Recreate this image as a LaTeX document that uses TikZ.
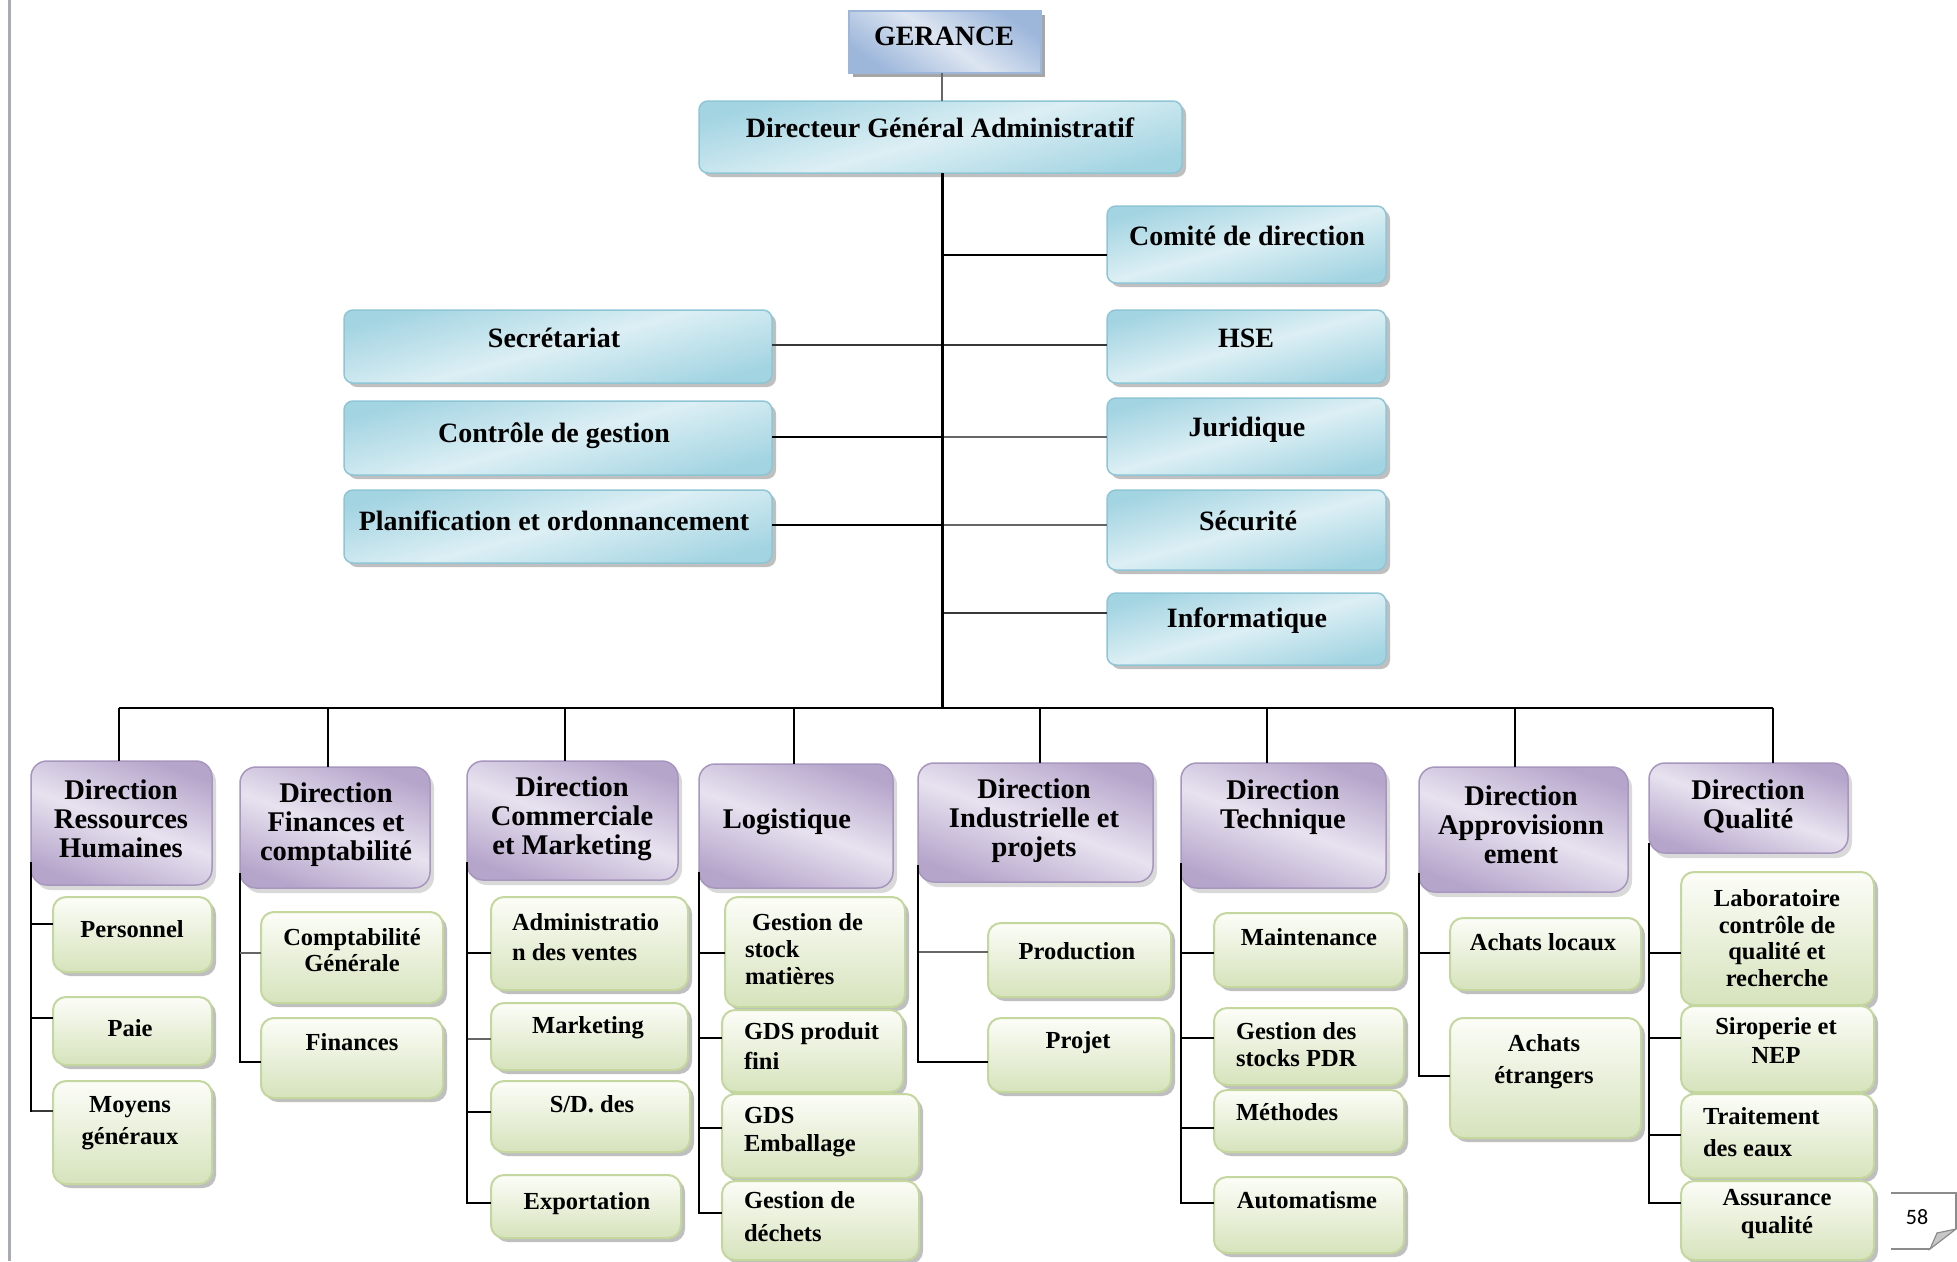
\documentclass[tikz,border=0pt]{standalone}
\usepackage{fontspec}
\setmainfont{Liberation Serif}
\newfontfamily\calibfont{Carlito}
\usetikzlibrary{shadows}
\definecolor{cyE}{HTML}{A3D4E2}
\definecolor{cyC}{HTML}{DCEFF4}
\definecolor{cyD}{HTML}{8FC6D6}
\definecolor{puE}{HTML}{B6A5CB}
\definecolor{puC}{HTML}{E7E2EF}
\definecolor{puD}{HTML}{A796BE}
\definecolor{grT}{HTML}{FCFDF8}
\definecolor{grB}{HTML}{D6E3BC}
\definecolor{grD}{HTML}{C4D79E}
\definecolor{blE}{HTML}{9DB7DB}
\definecolor{blC}{HTML}{DDE5F1}
\definecolor{marg}{HTML}{A6ABB4}
\newcommand\gf[1]{\fontsize{24.5}{#1}\selectfont\bfseries}
\newcommand\bx[6]{\node[#1, minimum width={#5-#3}, minimum height={#6-#4}] (#2) at ({(#3+#5)/2},{(#4+#6)/2}) {};}
\tikzset{
  base/.style={inner sep=0pt, outer sep=0pt},
  gerbox/.style={base, rectangle, draw=blE, line width=2pt, top color=blE, bottom color=blE, middle color=blC, shading angle=-35,
    drop shadow={shadow xshift=4pt, shadow yshift=-4pt, fill=black!35, opacity=1}},
  cybox/.style={base, rounded corners=9pt, draw=cyD, line width=1.5pt, top color=cyE, bottom color=cyE, middle color=cyC, shading angle=15,
    drop shadow={shadow xshift=4pt, shadow yshift=-4pt, fill=black!25, opacity=1}},
  pubox/.style={base, rounded corners=16pt, draw=puD, line width=1.5pt, top color=puE, bottom color=puE, middle color=puC, shading angle=-20,
    drop shadow={shadow xshift=4pt, shadow yshift=-5pt, fill=black!15, opacity=1}},
  grbox/.style={base, rounded corners=13pt, draw=grD, line width=2pt, top color=grT, bottom color=grB,
    drop shadow={shadow xshift=4pt, shadow yshift=-4pt, fill=black!25, opacity=1}},
  ttxt/.style={base, font=\fontsize{28}{30}\selectfont\bfseries, text height=1.75em, text depth=0.14em},
  ptxt/.style={base, font=\fontsize{28.5}{29}\selectfont\bfseries, align=center},
  gtxt/.style={base, font=\gf{27}, align=center},
  gltxt/.style={base, font=\gf{27}, align=left, anchor=west},
  conn/.style={line width=2.6pt, draw=black},
  conng/.style={line width=2.6pt, draw=black!60},
  conngd/.style={line width=2.6pt, draw=black!78},
  trunk/.style={line width=3pt, draw=black},
}
\begin{document}
\begin{tikzpicture}[x=1pt, y=-1pt]
\useasboundingbox[fill=white] (0,0) rectangle (1957,1261);
\draw[marg, line width=3pt] (9.5,0) -- (9.5,1261);

\coordinate (busL) at (119,708);
\coordinate (busR) at (1773,708);

\bx{cybox}{dga}{699}{101}{1182}{173}
\bx{gerbox}{ger}{849}{11}{1041}{73}
\draw[conng] (ger.south -| 942,0) -- (dga.north -| 942,0);
\draw[conn] (busL) -- (busR);

% top side boxes
\bx{cybox}{com}{1107}{206}{1386}{283}
\bx{cybox}{hse}{1107}{310}{1386}{383}
\bx{cybox}{jur}{1107}{398}{1386}{475}
\bx{cybox}{sec2}{1107}{490}{1386}{570}
\bx{cybox}{inf}{1107}{593}{1386}{665}
\bx{cybox}{secr}{344}{310}{772}{383}
\bx{cybox}{ctl}{344}{401}{772}{475}
\bx{cybox}{pla}{344}{490}{772}{563}

\draw[conn] (dga.south |- 0,255) -- (com.west |- 0,255);
\draw[conngd] (secr.east |- 0,345) -- (hse.west |- 0,345);
\draw[conn] (ctl.east |- 0,437) -- (dga.south |- 0,437);
\draw[conng] (dga.south |- 0,437) -- (jur.west |- 0,437);
\draw[conn] (pla.east |- 0,525) -- (dga.south |- 0,525);
\draw[conng] (dga.south |- 0,525) -- (sec2.west |- 0,525);
\draw[conngd] (dga.south |- 0,613) -- (inf.west |- 0,613);
\draw[trunk] (dga.south -| 942,0) -- (busL -| 942,0);

% directions
\bx{pubox}{drh}{31}{761}{212}{885}
\bx{pubox}{dfc}{240}{767}{430}{888}
\bx{pubox}{dcm}{467}{761}{678}{880}
\bx{pubox}{log}{699}{764}{893}{888}
\bx{pubox}{dip}{918}{763}{1153}{882}
\bx{pubox}{dt}{1181}{763}{1386}{888}
\bx{pubox}{da}{1419}{767}{1628}{892}
\bx{pubox}{dq}{1649}{763}{1848}{853}

\foreach \n/\x in {drh/119, dfc/328, dcm/565, log/794, dip/1040, dt/1267, da/1515, dq/1773}
  \draw[conn] (busL -| \x,0) -- (\n.north -| \x,0);

% sub boxes
\bx{grbox}{per}{53}{897}{212}{972}
\bx{grbox}{pai}{53}{997}{212}{1065}
\bx{grbox}{moy}{53}{1081}{212}{1184}
\bx{grbox}{cpt}{261}{912}{443}{1003}
\bx{grbox}{fin}{261}{1018}{443}{1098}
\bx{grbox}{adv}{491}{897}{688}{990}
\bx{grbox}{mkt}{491}{1003}{688}{1070}
\bx{grbox}{sdd}{491}{1081}{690}{1152}
\bx{grbox}{exp}{491}{1175}{681}{1238}
\bx{grbox}{gsm}{725}{897}{905}{1007}
\bx{grbox}{gpf}{722}{1010}{903}{1092}
\bx{grbox}{gem}{722}{1094}{919}{1178}
\bx{grbox}{gdd}{722}{1181}{919}{1260}
\bx{grbox}{pro}{988}{923}{1171}{997}
\bx{grbox}{prj}{988}{1018}{1171}{1092}
\bx{grbox}{mai}{1214}{913}{1404}{987}
\bx{grbox}{gpd}{1214}{1008}{1404}{1085}
\bx{grbox}{met}{1214}{1090}{1404}{1152}
\bx{grbox}{aut}{1214}{1177}{1404}{1253}
\bx{grbox}{alo}{1450}{918}{1641}{990}
\bx{grbox}{aet}{1450}{1018}{1641}{1138}
\bx{grbox}{lab}{1681}{872}{1874}{1005}
\bx{grbox}{sir}{1681}{1006}{1874}{1092}
\bx{grbox}{tra}{1681}{1094}{1874}{1178}
\bx{grbox}{ass}{1681}{1181}{1874}{1260}

% sub connectors
\draw[conn] (drh.south west |- 0,862) |- (per.west |- 0,924);
\draw[conn] (drh.south west |- 0,862) |- (pai.west |- 0,1018);
\draw[conngd] (drh.south west |- 0,1111) -- (moy.west |- 0,1111);
\draw[conn] (drh.south west |- 0,862) -- (drh.south west |- 0,1112.3);
\draw[conn] (dfc.south west |- 0,873) |- (fin.west |- 0,1062);
\draw[conng] (dfc.south west |- 0,953) -- (cpt.west |- 0,953);
\draw[conn] (dcm.south west |- 0,862) |- (adv.west |- 0,953);
\draw[conng] (dcm.south west |- 0,1039) -- (mkt.west |- 0,1039);
\draw[conn] (dcm.south west |- 0,862) |- (sdd.west |- 0,1112);
\draw[conn] (dcm.south west |- 0,862) |- (exp.west |- 0,1203);
\draw[conn] (log.south west |- 0,872) |- (gsm.west |- 0,953);
\draw[conn] (log.south west |- 0,872) |- (gpf.west |- 0,1038);
\draw[conn] (log.south west |- 0,872) |- (gem.west |- 0,1128);
\draw[conn] (log.south west |- 0,872) |- (gdd.west |- 0,1213);
\draw[conng] (dip.south west |- 0,952) -- (pro.west |- 0,952);
\draw[conn] (dip.south west |- 0,865) |- (prj.west |- 0,1062);
\draw[conn] (dt.south west |- 0,863) |- (mai.west |- 0,953);
\draw[conn] (dt.south west |- 0,863) |- (gpd.west |- 0,1038);
\draw[conn] (dt.south west |- 0,863) |- (met.west |- 0,1128);
\draw[conn] (dt.south west |- 0,863) |- (aut.west |- 0,1203);
\draw[conn] (da.south west |- 0,873) |- (alo.west |- 0,953);
\draw[conn] (da.south west |- 0,873) |- (aet.west |- 0,1076);
\draw[conn] (dq.south west |- 0,843) |- (lab.west |- 0,953);
\draw[conn] (dq.south west |- 0,843) |- (sir.west |- 0,1038);
\draw[conn] (dq.south west |- 0,843) |- (tra.west |- 0,1135);
\draw[conn] (dq.south west |- 0,843) |- (ass.west |- 0,1203);

% ---------- texts ----------
\node[ttxt] (ger-t) at (944,37) {GERANCE};
\node[ttxt] (dga-t) at (940,129) {Directeur Général Administratif};
\node[ttxt] (com-t) at (1247,237) {Comité de direction};
\node[ttxt] (hse-t) at (1246,339) {HSE};
\node[ttxt] (jur-t) at (1247,428) {Juridique};
\node[ttxt] (sec2-t) at (1248,522) {Sécurité};
\node[ttxt] (inf-t) at (1247,619) {Informatique};
\node[ttxt] (secr-t) at (554,339) {Secrétariat};
\node[ttxt] (ctl-t) at (554,434) {Contrôle de gestion};
\node[ttxt] (pla-t) at (554,522) {Planification et ordonnancement};

\node[ptxt] (drh-t) at (121,819) {Direction\\Ressources\\Humaines};
\node[ptxt] (dfc-t) at (336,825) {Direction\\Finances et\\comptabilité};
\node[ptxt] (dcm-t) at (572,819) {Direction\\Commerciale\\et Marketing};
\node[ptxt] (log-t) at (787,822) {Logistique};
\node[ptxt] (dip-t) at (1034,821) {Direction\\Industrielle et\\projets};
\node[ptxt] (dt-t) at (1283,807) {Direction\\Technique};
\node[ptxt] (da-t) at (1521,825) {Direction\\Approvisionn\\ement};
\node[ptxt] (dq-t) at (1748,806) {Direction\\Qualité};

\node[gtxt] (per-t) at (132,929) {Personnel};
\node[gtxt] (pai-t) at (130,1028) {Paie};
\node[gtxt, font=\gf{32}] (moy-t) at (130,1123) {Moyens\\généraux};
\node[gtxt, font=\gf{26}] (cpt-t) at (352,950) {Comptabilité\\Générale};
\node[gtxt] (fin-t) at (352,1042) {Finances};
\node[gltxt, font=\gf{30}] (adv-t) at (512,937) {Administratio\\n des ventes};
\node[gtxt] (mkt-t) at (588,1028) {Marketing};
\node[gtxt] (sdd-t) at (592,1104) {S/D. des};
\node[gtxt] (exp-t) at (587,1204) {Exportation};
\node[gltxt, font=\gf{27}] (gsm-t) at (745,949) {\hspace{7pt}Gestion de\\stock\\matières};
\node[gltxt, font=\gf{30}] (gpf-t) at (744,1046) {GDS produit\\fini};
\node[gltxt, font=\gf{28}] (gem-t) at (744,1132) {GDS\\Emballage};
\node[gltxt, font=\gf{33}] (gdd-t) at (744,1217) {Gestion de\\déchets};
\node[gtxt] (pro-t) at (1077,951) {Production};
\node[gtxt] (prj-t) at (1078,1043) {Projet};
\node[gtxt] (mai-t) at (1309,937) {Maintenance};
\node[gltxt, font=\gf{27}] (gpd-t) at (1236,1045) {Gestion des\\stocks PDR};
\node[gltxt] (met-t) at (1236,1112) {Méthodes};
\node[gtxt] (aut-t) at (1307,1200) {Automatisme};
\node[gtxt] (alo-t) at (1543,942) {Achats locaux};
\node[gtxt, font=\gf{32}] (aet-t) at (1544,1062) {Achats\\étrangers};
\node[gtxt, font=\gf{26.5}] (lab-t) at (1777,938) {Laboratoire\\contrôle de\\qualité et\\recherche};
\node[gtxt, font=\gf{29}] (sir-t) at (1776,1040) {Siroperie et\\NEP};
\node[gltxt, font=\gf{32}] (tra-t) at (1703,1132) {Traitement\\des eaux};
\node[gtxt, font=\gf{28}] (ass-t) at (1777,1214) {Assurance\\qualité};

% ---------- page number tab ----------
\draw[black!45, line width=1.2pt] (1891,1193) -- (1956,1193) -- (1956,1229);
\draw[black!45, line width=1.2pt] (1891,1249) -- (1930,1249);
\filldraw[draw=black!45, fill=black!22, line width=1.2pt] (1956,1229) -- (1930,1249) -- (1937,1233) -- cycle;
\node[base, font=\calibfont\fontsize{22}{24}\selectfont] (pg) at (1917,1217) {58};
\end{tikzpicture}
\end{document}
